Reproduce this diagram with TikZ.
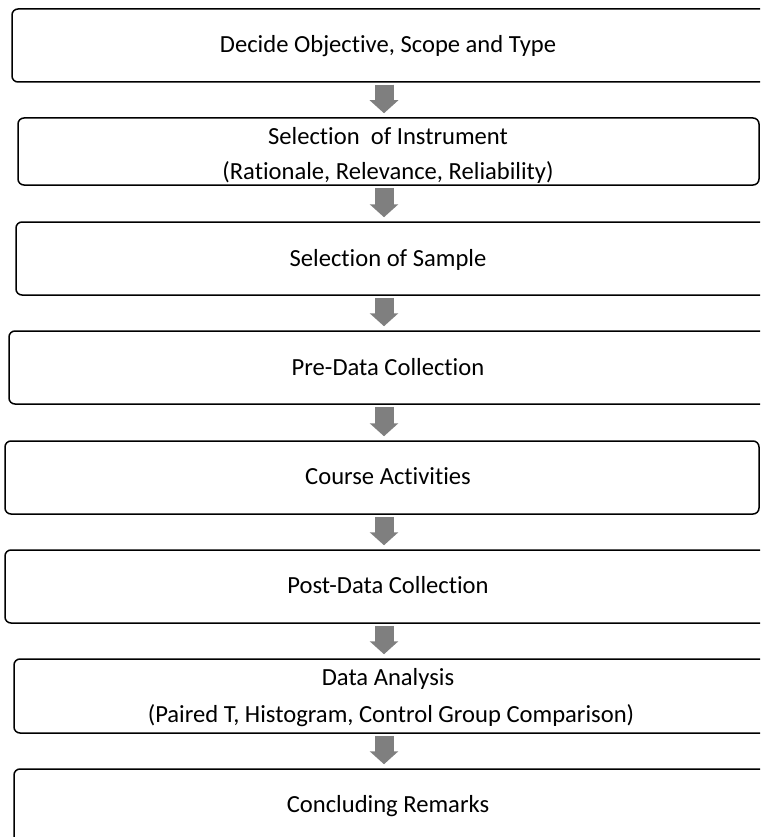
\documentclass[tikz,border=0pt]{standalone}
\usepackage{fontspec}
\setmainfont{Carlito}[Ligatures=NoCommon]
\usetikzlibrary{arrows.meta}
\definecolor{arrowgray}{HTML}{7F7F7F}
\tikzset{
  stepbox/.style={draw=black, line width=1.5pt, rounded corners=6pt, inner sep=0pt},
  steptext/.style={font=\fontsize{24.6}{28}\selectfont, inner sep=0pt, anchor=base},
  blockarrow/.style={draw=arrowgray, line width=19pt, -{Triangle[width=28pt,length=13pt,fill=arrowgray]}}
}
\begin{document}
\begin{tikzpicture}[x=1pt,y=-1pt]
\clip (0,0) rectangle (760,837);
% boxes
\node[stepbox, minimum width=760pt, minimum height=73pt] (b1) at (392,45.5) {};
\node[stepbox, minimum width=741pt, minimum height=67pt] (b2) at (388.5,151.5) {};
\node[stepbox, minimum width=756pt, minimum height=73pt] (b3) at (394,258.5) {};
\node[stepbox, minimum width=763pt, minimum height=73pt] (b4) at (390.5,367.5) {};
\node[stepbox, minimum width=754pt, minimum height=73pt] (b5) at (382,477.5) {};
\node[stepbox, minimum width=767pt, minimum height=73pt] (b6) at (388.5,586.5) {};
\node[stepbox, minimum width=758pt, minimum height=74pt] (b7) at (393,696) {};
\node[stepbox, minimum width=758pt, minimum height=76pt] (b8) at (393,807) {};
% texts
\node[steptext] (t1) at (388,53) {Decide Objective, Scope and Type};
\node[steptext] (t2a) at (388,145) {Selection\ \ of Instrument};
\node[steptext] (t2b) at (388,179) {(Rationale, Relevance, Reliability)};
\node[steptext] (t3) at (388,266) {Selection of Sample};
\node[steptext] (t4) at (388,375) {Pre-Data Collection};
\node[steptext] (t5) at (388,484) {Course Activities};
\node[steptext] (t6) at (388,593) {Post-Data Collection};
\node[steptext] (t7a) at (388,685) {Data Analysis};
\node[steptext] (t7b) at (391,722) {(Paired T, Histogram, Control Group Comparison)};
\node[steptext] (t8) at (388,812) {Concluding Remarks};
% arrows
\foreach \a/\b in {b1/b2,b2/b3,b3/b4,b4/b5,b5/b6,b6/b7,b7/b8}{
  \draw[blockarrow] ([yshift=-2pt]\a.south -| 384,0) -- ([yshift=4pt]\b.north -| 384,0);
}
\end{tikzpicture}
\end{document}
